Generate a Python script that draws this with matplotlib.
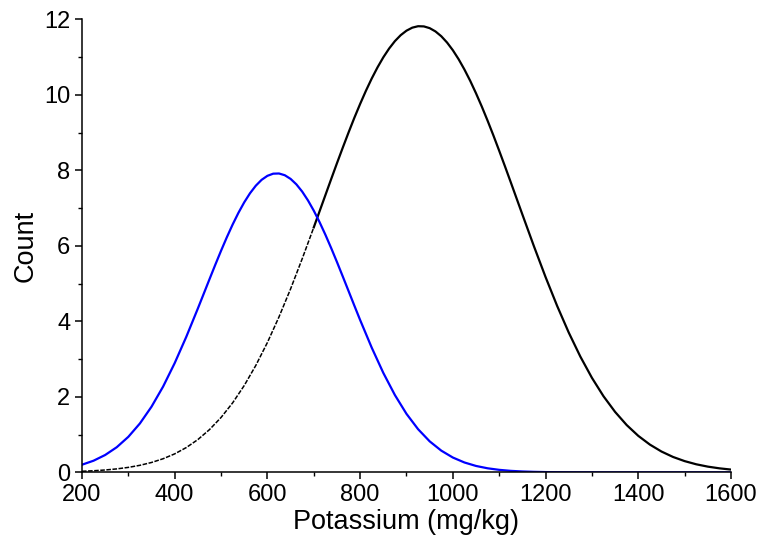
import matplotlib.pyplot as plt
from matplotlib.ticker import MultipleLocator

plt.rcParams['font.family'] = ['Liberation Sans', 'DejaVu Sans']

# black curve: read every 25 mg/kg, every 12.5 near the peak
black_x = list(range(200, 725, 25)) + [725 + 12.5 * i for i in range(35)] + list(range(1175, 1601, 25))
black_y = [0.028, 0.042, 0.062, 0.091, 0.131, 0.186, 0.261, 0.360, 0.489, 0.656,
           0.868, 1.131, 1.453, 1.840, 2.299, 2.832, 3.439, 4.117, 4.859, 5.656,
           6.488,
           7.340, 7.766, 8.187, 8.599, 9.001, 9.390, 9.758, 10.107, 10.431, 10.727,
           10.993, 11.225, 11.422, 11.580, 11.699, 11.779, 11.817, 11.812, 11.766, 11.679,
           11.552, 11.385, 11.181, 10.942, 10.670, 10.369, 10.039, 9.687, 9.313, 8.923,
           8.517, 8.103, 7.681, 7.255, 6.829,
           5.985, 5.172, 4.407, 3.702, 3.066, 2.503, 2.015, 1.600, 1.252, 0.966,
           0.735, 0.551, 0.407, 0.297, 0.213, 0.151, 0.106, 0.073]

# blue curve
blue_x = list(range(200, 450, 25)) + [450 + 12.5 * i for i in range(29)] + list(range(825, 1601, 25))
blue_y = [0.202, 0.308, 0.459, 0.665, 0.940, 1.295, 1.738, 2.271, 2.893, 3.589,
          4.340, 4.726, 5.113, 5.496, 5.869, 6.227, 6.564, 6.874, 7.152, 7.393,
          7.593, 7.748, 7.854, 7.911, 7.916, 7.870, 7.773, 7.628, 7.437, 7.203,
          6.932, 6.628, 6.296, 5.942, 5.572, 5.190, 4.804, 4.417, 4.035,
          3.303, 2.634, 2.047, 1.549, 1.143, 0.821, 0.575, 0.392, 0.261, 0.169,
          0.107, 0.066, 0.039, 0.023, 0.013, 0.007, 0.004, 0.002, 0.001, 0.001,
          0.0, 0.0, 0.0, 0.0, 0.0, 0.0, 0.0, 0.0, 0.0, 0.0,
          0.0, 0.0]

# black curve is dashed below this potassium value
dash_end = 700

fig = plt.figure(figsize=(7.61, 5.47), dpi=100)
ax = fig.add_axes([0.1077, 0.1365, 0.8529, 0.8282])

x_low = [x for x in black_x if x <= dash_end]
y_low = [y for x, y in zip(black_x, black_y) if x <= dash_end]
x_high = [x for x in black_x if x >= dash_end]
y_high = [y for x, y in zip(black_x, black_y) if x >= dash_end]

ax.plot(x_low, y_low, color='black', lw=1.1, ls=(0, (3, 1)))
ax.plot(x_high, y_high, color='black', lw=1.6)
ax.plot(blue_x[:len(blue_y)], blue_y, color='#0000ff', lw=1.6)

ax.set_xlim(200, 1600)
ax.set_ylim(0, 12)
ax.xaxis.set_major_locator(MultipleLocator(200))
ax.xaxis.set_minor_locator(MultipleLocator(100))
ax.yaxis.set_major_locator(MultipleLocator(2))
ax.yaxis.set_minor_locator(MultipleLocator(1))

ax.spines['top'].set_visible(False)
ax.spines['right'].set_visible(False)
for s in ['left', 'bottom']:
    ax.spines[s].set_linewidth(1.1)

ax.tick_params(which='major', direction='out', length=5, width=1.1, labelsize=17)
ax.tick_params(which='minor', direction='out', length=3, width=1.0)

ax.set_xlabel('Potassium (mg/kg)', fontsize=19.5, labelpad=2)
ax.set_ylabel('Count', fontsize=19.5, labelpad=4)

fig.savefig('out.png', dpi=100)
